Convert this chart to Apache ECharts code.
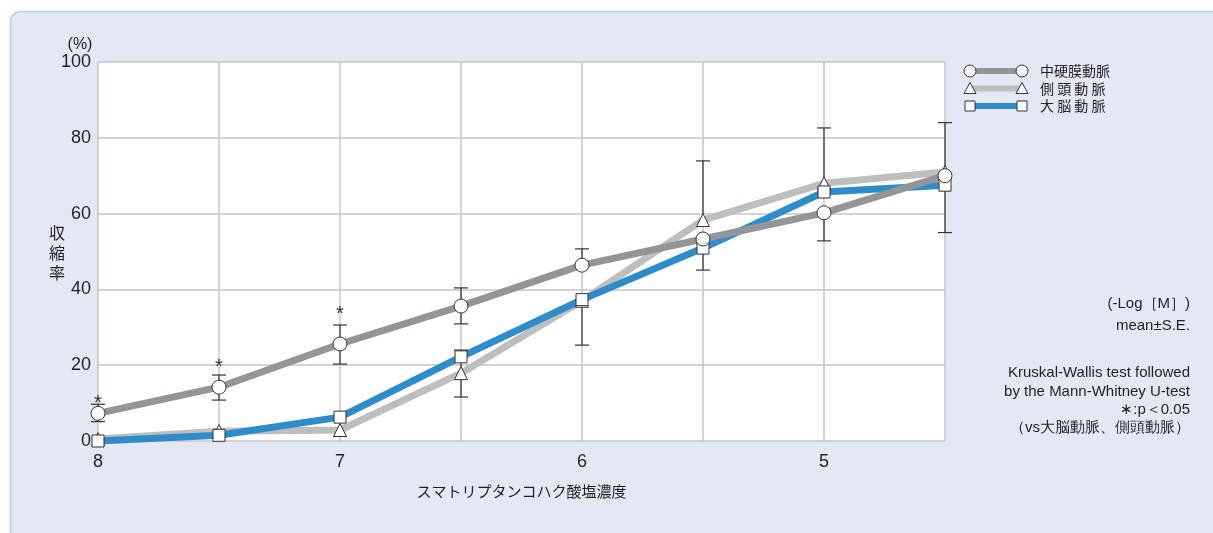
<!DOCTYPE html>
<html>
<head>
<meta charset="utf-8">
<script src="https://cdn.jsdelivr.net/npm/echarts@6/dist/echarts.min.js"></script>
<style>
  html, body { margin: 0; padding: 0; background: #fff; }
  #chart { width: 1213px; height: 533px; }
</style>
</head>
<body>
<div id="chart"></div>
<script>
// -Log[M] のカテゴリ
const doses = ['8', '7.5', '7', '6.5', '6', '5.5', '5', '4.5']

// 中硬膜動脈 (○)
const mmaMean = [7.3, 14.2, 25.6, 35.6, 46.4, 53.3, 60.2, 70.0]
const mmaUp = [2.4, 3.2, 5.0, 4.8, 4.3, 0, 0, 14.0]
const mmaDown = [2.2, 3.4, 5.3, 4.7, 0, 8.2, 7.4, 15.0]
const mmaStar = [11.1, 20.8, 34.6, null, null, null, null, null]

// 側頭動脈 (△)
const staMean = [0.5, 2.6, 2.9, 17.9, 37.0, 58.3, 68.0, 71.0]
const staUp = [0, 0, 0, 6.1, 0, 15.6, 14.6, 0]
const staDown = [0, 0, 0, 6.3, 11.7, 0, 0, 0]

// 大脳動脈 (□)
const mcaMean = [0, 1.5, 6.3, 22.2, 37.3, 50.9, 65.7, 67.5]
const mcaUp = [0, 0, 0, 0, 0, 0, 0, 0]
const mcaDown = [0, 0, 0, 0, 0, 0, 0, 0]

const yTicks = [0, 20, 40, 60, 80, 100]

// 描画順 (下から): 側頭 → 大脳 → 中硬膜
const seriesDefs = [
  { name: '側頭動脈', legend: '側 頭 動 脈', order: 1, color: '#bcbec0', symbol: 'triangle', size: 13, mean: staMean, up: staUp, down: staDown, z: 1 },
  { name: '大脳動脈', legend: '大 脳 動 脈', order: 2, color: '#2e8ccb', symbol: 'rect', size: 12, mean: mcaMean, up: mcaUp, down: mcaDown, z: 2 },
  { name: '中硬膜動脈', legend: '中硬膜動脈', order: 0, color: '#939598', symbol: 'circle', size: 14, mean: mmaMean, up: mmaUp, down: mmaDown, star: mmaStar, z: 3 }
]

const numFont = '"Liberation Sans Narrow", "Liberation Sans", sans-serif'
const jpFont = '"Noto Sans CJK JP", sans-serif'
const textColor = '#231f20'

const chart = echarts.init(document.getElementById('chart'))

const errorSeries = seriesDefs.map(def => ({
  type: 'custom',
  z: 10,
  silent: true,
  data: def.mean.map((m, i) => [i, m, def.up[i], def.down[i]]),
  renderItem: (params, api) => {
    const i = api.value(0)
    const m = api.value(1)
    const up = api.value(2)
    const down = api.value(3)
    const star = def.star ? def.star[i] : null
    const children = []
    const style = { stroke: '#333', lineWidth: 1.2 }
    const c = api.coord([i, m])
    const capW = 7
    if (up > 0) {
      const t = api.coord([i, m + up])
      children.push({ type: 'line', shape: { x1: c[0], y1: c[1], x2: t[0], y2: t[1] }, style })
      children.push({ type: 'line', shape: { x1: t[0] - capW, y1: t[1], x2: t[0] + capW, y2: t[1] }, style })
    }
    if (down > 0) {
      const b = api.coord([i, m - down])
      children.push({ type: 'line', shape: { x1: c[0], y1: c[1], x2: b[0], y2: b[1] }, style })
      children.push({ type: 'line', shape: { x1: b[0] - capW, y1: b[1], x2: b[0] + capW, y2: b[1] }, style })
    }
    if (star != null) {
      const s = api.coord([i, star])
      children.push({
        type: 'text',
        style: { x: s[0], y: s[1] + 5, text: '*', fill: '#333', font: '20px ' + numFont, align: 'center', verticalAlign: 'middle' }
      })
    }
    return { type: 'group', children }
  }
}))

const lineSeries = seriesDefs.map(def => ({
  name: def.name,
  type: 'line',
  z: def.z,
  data: def.mean,
  showSymbol: false,
  silent: true,
  lineStyle: { color: def.color, width: 7, cap: 'butt', join: 'round' },
  itemStyle: { color: def.color }
}))

const markerSeries = seriesDefs.map(def => ({
  type: 'scatter',
  z: 20,
  silent: true,
  data: def.mean.map((m, i) => [i, m]),
  symbol: def.symbol,
  symbolSize: def.size,
  itemStyle: { color: '#ffffff', opacity: 1, borderColor: '#333', borderWidth: 1 }
}))

// 凡例 (両端に記号)
const legendGraphics = []
seriesDefs.forEach(def => {
  const y = 71 + def.order * 17.5
  legendGraphics.push({ type: 'line', shape: { x1: 970, y1: y, x2: 1020, y2: y }, style: { stroke: def.color, lineWidth: 6 } })
  const sym = (x) => {
    if (def.symbol === 'circle') return { type: 'circle', shape: { cx: x, cy: y, r: 6 }, style: { fill: '#fff', stroke: '#333', lineWidth: 1 } }
    if (def.symbol === 'rect') return { type: 'rect', shape: { x: x - 5, y: y - 5, width: 10, height: 10 }, style: { fill: '#fff', stroke: '#333', lineWidth: 1 } }
    return { type: 'polygon', shape: { points: [[x, y - 6], [x - 6, y + 5], [x + 6, y + 5]] }, style: { fill: '#fff', stroke: '#333', lineWidth: 1 } }
  }
  legendGraphics.push(sym(970), sym(1022))
  legendGraphics.push({ type: 'text', style: { x: 1040, y: y, text: def.legend, font: '14px ' + jpFont, fill: textColor, verticalAlign: 'middle' } })
})

const notes = [
  { text: '(-Log［M］)', y: 304 },
  { text: 'mean±S.E.', y: 326 },
  { text: 'Kruskal-Wallis test followed', y: 373 },
  { text: 'by the Mann-Whitney U-test', y: 392 },
  { text: '∗:p＜0.05', y: 410 },
  { text: '（vs大脳動脈、側頭動脈）', y: 428 }
]

const option = {
  animation: false,
  backgroundColor: '#fff',
  grid: {
    left: 98, right: 268, top: 62, bottom: 92,
    show: true, backgroundColor: '#fff', borderWidth: 0
  },
  graphic: [
    { type: 'rect', z: -10, shape: { x: 10.5, y: 11.5, width: 1215, height: 540, r: 10 }, style: { fill: '#e3e8f4', stroke: '#b9cfea', lineWidth: 1.5 } },
    { type: 'text', style: { x: 80, y: 45, text: '(%)', font: '16px ' + numFont, fill: textColor, align: 'center', verticalAlign: 'middle' } },
    { type: 'text', style: { x: 57, y: 253, text: '収\n縮\n率', font: '16px ' + jpFont, fill: textColor, align: 'center', verticalAlign: 'middle', lineHeight: 20 } },
    ...legendGraphics,
    ...notes.map(n => ({ type: 'text', style: { x: 1190, y: n.y, text: n.text, font: '15px ' + numFont, fill: textColor, align: 'right', verticalAlign: 'middle' } }))
  ],
  xAxis: {
    type: 'category',
    data: doses,
    boundaryGap: false,
    name: 'スマトリプタンコハク酸塩濃度',
    nameLocation: 'middle',
    nameGap: 43,
    nameTextStyle: { fontFamily: jpFont, fontSize: 15, color: textColor },
    axisLine: { show: false },
    axisTick: { show: false },
    axisLabel: { interval: 1, fontFamily: numFont, fontSize: 18, color: textColor, margin: 12 },
    splitLine: { show: true, interval: 0, lineStyle: { color: '#c6c6c6', width: 1.5 } }
  },
  yAxis: {
    type: 'value',
    min: 0,
    max: 100,
    interval: 20,
    axisLine: { show: false },
    axisTick: { show: false },
    axisLabel: {
      fontFamily: numFont, fontSize: 18, color: textColor, margin: 7,
      formatter: v => yTicks.includes(v) ? String(v) : ''
    },
    splitLine: { show: true, lineStyle: { color: '#c6c6c6', width: 1.5 } }
  },
  series: [...lineSeries, ...errorSeries, ...markerSeries]
}

chart.setOption(option)
window.addEventListener('resize', () => chart.resize())
</script>
</body>
</html>
